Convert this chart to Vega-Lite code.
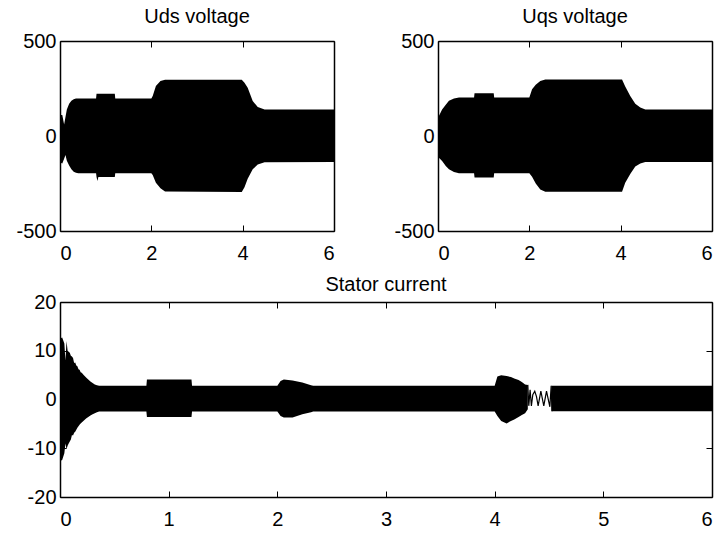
{
  "$schema": "https://vega.github.io/schema/vega-lite/v6.json",
  "background": "white",
  "padding": {"left": 15, "top": 7, "right": 5, "bottom": 5},
  "config": {
    "font": "Liberation Sans",
    "view": {"stroke": null},
    "axis": {"grid": false, "domain": true, "domainColor": "black", "domainWidth": 1.5, "tickColor": "black", "tickSize": -6, "tickWidth": 1, "labelFontSize": 20, "labelColor": "black", "labelFont": "Liberation Sans", "labelExpr": "'' + datum.value"},
    "axisLeft": {"labelPadding": 10},
    "axisBottom": {"labelPadding": 18},
    "title": {"fontSize": 20, "fontWeight": "normal", "font": "Liberation Sans", "color": "black", "baseline": "alphabetic", "offset": 0}
  },
  "datasets": {
    "uds": [
      {"t": 0.0, "hi": 110, "lo": -140},
      {"t": 0.05, "hi": 110, "lo": -145},
      {"t": 0.09, "hi": 60, "lo": -120},
      {"t": 0.12, "hi": 100, "lo": -100},
      {"t": 0.15, "hi": 140, "lo": -130},
      {"t": 0.2, "hi": 170, "lo": -155},
      {"t": 0.25, "hi": 185, "lo": -175},
      {"t": 0.3, "hi": 193, "lo": -188},
      {"t": 0.35, "hi": 197, "lo": -194},
      {"t": 0.4, "hi": 198, "lo": -196},
      {"t": 0.79, "hi": 198, "lo": -196},
      {"t": 0.8, "hi": 222, "lo": -216},
      {"t": 0.82, "hi": 222, "lo": -237},
      {"t": 0.84, "hi": 222, "lo": -216},
      {"t": 1.2, "hi": 222, "lo": -216},
      {"t": 1.21, "hi": 198, "lo": -196},
      {"t": 2.0, "hi": 198, "lo": -196},
      {"t": 2.03, "hi": 210, "lo": -205},
      {"t": 2.1, "hi": 263, "lo": -246},
      {"t": 2.2, "hi": 290, "lo": -275},
      {"t": 2.3, "hi": 296, "lo": -292},
      {"t": 3.98, "hi": 296, "lo": -295},
      {"t": 4.04, "hi": 280, "lo": -270},
      {"t": 4.11, "hi": 254, "lo": -225},
      {"t": 4.22, "hi": 184, "lo": -175},
      {"t": 4.33, "hi": 153, "lo": -150},
      {"t": 4.48, "hi": 140, "lo": -138},
      {"t": 6.0, "hi": 140, "lo": -137}
    ],
    "uqs": [
      {"t": 0.0, "hi": 100, "lo": -100},
      {"t": 0.02, "hi": 105, "lo": -114},
      {"t": 0.09, "hi": 140, "lo": -132},
      {"t": 0.17, "hi": 165, "lo": -158},
      {"t": 0.24, "hi": 185, "lo": -175},
      {"t": 0.35, "hi": 197, "lo": -190},
      {"t": 0.46, "hi": 202, "lo": -196},
      {"t": 0.79, "hi": 202, "lo": -196},
      {"t": 0.8, "hi": 225, "lo": -219},
      {"t": 1.22, "hi": 225, "lo": -219},
      {"t": 1.23, "hi": 202, "lo": -196},
      {"t": 2.0, "hi": 202, "lo": -196},
      {"t": 2.06, "hi": 246, "lo": -215},
      {"t": 2.14, "hi": 270, "lo": -250},
      {"t": 2.24, "hi": 290, "lo": -281},
      {"t": 2.35, "hi": 298, "lo": -293},
      {"t": 4.03, "hi": 298, "lo": -293},
      {"t": 4.1, "hi": 260, "lo": -246},
      {"t": 4.21, "hi": 210, "lo": -200},
      {"t": 4.32, "hi": 170, "lo": -160},
      {"t": 4.43, "hi": 150, "lo": -145},
      {"t": 4.54, "hi": 140, "lo": -137},
      {"t": 6.0, "hi": 140, "lo": -137}
    ],
    "cur": [
      {"seg": "A", "t": 0.0, "hi": 12.5, "lo": -12.6},
      {"seg": "A", "t": 0.02, "hi": 12.7, "lo": -12.4},
      {"seg": "A", "t": 0.04, "hi": 11.5, "lo": -11.0},
      {"seg": "A", "t": 0.05, "hi": 8.0, "lo": -9.0},
      {"seg": "A", "t": 0.06, "hi": 12.0, "lo": -10.2},
      {"seg": "A", "t": 0.07, "hi": 10.0, "lo": -9.5},
      {"seg": "A", "t": 0.08, "hi": 9.8, "lo": -9.0},
      {"seg": "A", "t": 0.09, "hi": 9.6, "lo": -8.6},
      {"seg": "A", "t": 0.1, "hi": 9.0, "lo": -8.2},
      {"seg": "A", "t": 0.11, "hi": 8.8, "lo": -7.3},
      {"seg": "A", "t": 0.12, "hi": 8.5, "lo": -7.4},
      {"seg": "A", "t": 0.13, "hi": 7.5, "lo": -6.8},
      {"seg": "A", "t": 0.14, "hi": 7.6, "lo": -6.6},
      {"seg": "A", "t": 0.15, "hi": 7.0, "lo": -6.2},
      {"seg": "A", "t": 0.16, "hi": 6.8, "lo": -5.8},
      {"seg": "A", "t": 0.17, "hi": 6.2, "lo": -5.5},
      {"seg": "A", "t": 0.18, "hi": 6.1, "lo": -5.2},
      {"seg": "A", "t": 0.19, "hi": 5.6, "lo": -4.9},
      {"seg": "A", "t": 0.2, "hi": 5.5, "lo": -4.7},
      {"seg": "A", "t": 0.22, "hi": 5.0, "lo": -4.3},
      {"seg": "A", "t": 0.24, "hi": 4.5, "lo": -3.9},
      {"seg": "A", "t": 0.26, "hi": 4.1, "lo": -3.6},
      {"seg": "A", "t": 0.28, "hi": 3.7, "lo": -3.3},
      {"seg": "A", "t": 0.3, "hi": 3.4, "lo": -3.0},
      {"seg": "A", "t": 0.32, "hi": 3.1, "lo": -2.8},
      {"seg": "A", "t": 0.34, "hi": 2.9, "lo": -2.6},
      {"seg": "A", "t": 0.36, "hi": 2.8, "lo": -2.45},
      {"seg": "A", "t": 0.795, "hi": 2.8, "lo": -2.45},
      {"seg": "A", "t": 0.8, "hi": 4.1, "lo": -3.6},
      {"seg": "A", "t": 1.21, "hi": 4.1, "lo": -3.6},
      {"seg": "A", "t": 1.215, "hi": 2.8, "lo": -2.45},
      {"seg": "A", "t": 2.0, "hi": 2.8, "lo": -2.45},
      {"seg": "A", "t": 2.03, "hi": 3.8, "lo": -3.4},
      {"seg": "A", "t": 2.06, "hi": 4.1, "lo": -3.7},
      {"seg": "A", "t": 2.14, "hi": 3.9, "lo": -3.7},
      {"seg": "A", "t": 2.23, "hi": 3.5, "lo": -3.0},
      {"seg": "A", "t": 2.31, "hi": 2.9, "lo": -2.6},
      {"seg": "A", "t": 2.33, "hi": 2.8, "lo": -2.45},
      {"seg": "A", "t": 4.0, "hi": 2.8, "lo": -2.45},
      {"seg": "A", "t": 4.025, "hi": 4.7, "lo": -3.4},
      {"seg": "A", "t": 4.06, "hi": 5.0, "lo": -4.4},
      {"seg": "A", "t": 4.11, "hi": 4.8, "lo": -4.9},
      {"seg": "A", "t": 4.15, "hi": 4.6, "lo": -4.4},
      {"seg": "A", "t": 4.18, "hi": 4.3, "lo": -4.1},
      {"seg": "A", "t": 4.22, "hi": 4.0, "lo": -3.6},
      {"seg": "A", "t": 4.25, "hi": 3.6, "lo": -3.2},
      {"seg": "A", "t": 4.28, "hi": 3.1, "lo": -2.8},
      {"seg": "A", "t": 4.305, "hi": 3.0, "lo": -2.0},
      {"seg": "B", "t": 4.523, "hi": 2.8, "lo": -2.4},
      {"seg": "B", "t": 6.0, "hi": 2.8, "lo": -2.4}
    ],
    "wig": [
      {"t": 4.305, "v": 3.0},
      {"t": 4.314, "v": -1.3},
      {"t": 4.326, "v": 2.0},
      {"t": 4.338, "v": -1.3},
      {"t": 4.351, "v": 1.0},
      {"t": 4.369, "v": 1.7},
      {"t": 4.385, "v": 0.6},
      {"t": 4.4, "v": -1.3},
      {"t": 4.425, "v": 1.7},
      {"t": 4.452, "v": -1.3},
      {"t": 4.477, "v": 1.7},
      {"t": 4.508, "v": -1.5},
      {"t": 4.52, "v": 2.8},
      {"t": 4.528, "v": -2.4}
    ]
  },
  "spacing": 12,
  "vconcat": [
    {
      "spacing": 104,
      "bounds": "flush",
      "hconcat": [
        {
          "width": 274, "height": 190,
          "title": "Uds voltage",
          "data": {"name": "uds"},
          "layer": [
            {
              "mark": {"type": "area", "color": "black", "interpolate": "linear"},
              "encoding": {
                "x": {"field": "t", "type": "quantitative", "title": null, "scale": {"domain": [0, 6], "nice": false}, "axis": {"values": [0, 2, 4, 6], "orient": "bottom"}},
                "y": {"field": "hi", "type": "quantitative", "title": null, "scale": {"domain": [-500, 500], "nice": false}, "axis": {"values": [-500, 0, 500], "orient": "left"}},
                "y2": {"field": "lo"}
              }
            },
            {
              "mark": {"type": "point", "opacity": 0},
              "encoding": {
                "x": {"field": "t", "type": "quantitative", "title": null, "scale": {"domain": [0, 6], "nice": false}, "axis": {"values": [0, 2, 4, 6], "orient": "top", "labels": false}},
                "y": {"field": "hi", "type": "quantitative", "title": null, "scale": {"domain": [-500, 500], "nice": false}, "axis": {"values": [-500, 0, 500], "orient": "right", "labels": false}}
              }
            }
          ],
          "resolve": {"scale": {"x": "independent", "y": "independent"}, "axis": {"x": "independent", "y": "independent"}}
        },
        {
          "width": 274, "height": 190,
          "title": "Uqs voltage",
          "data": {"name": "uqs"},
          "layer": [
            {
              "mark": {"type": "area", "color": "black", "interpolate": "linear"},
              "encoding": {
                "x": {"field": "t", "type": "quantitative", "title": null, "scale": {"domain": [0, 6], "nice": false}, "axis": {"values": [0, 2, 4, 6], "orient": "bottom"}},
                "y": {"field": "hi", "type": "quantitative", "title": null, "scale": {"domain": [-500, 500], "nice": false}, "axis": {"values": [-500, 0, 500], "orient": "left"}},
                "y2": {"field": "lo"}
              }
            },
            {
              "mark": {"type": "point", "opacity": 0},
              "encoding": {
                "x": {"field": "t", "type": "quantitative", "title": null, "scale": {"domain": [0, 6], "nice": false}, "axis": {"values": [0, 2, 4, 6], "orient": "top", "labels": false}},
                "y": {"field": "hi", "type": "quantitative", "title": null, "scale": {"domain": [-500, 500], "nice": false}, "axis": {"values": [-500, 0, 500], "orient": "right", "labels": false}}
              }
            }
          ],
          "resolve": {"scale": {"x": "independent", "y": "independent"}, "axis": {"x": "independent", "y": "independent"}}
        }
      ]
    },
    {
      "width": 652, "height": 195,
      "title": {"text": "Stator current", "offset": -3},
      "layer": [
        {
          "data": {"name": "cur"},
          "mark": {"type": "area", "color": "black", "interpolate": "linear"},
          "encoding": {
            "x": {"field": "t", "type": "quantitative", "title": null, "scale": {"domain": [0, 6], "nice": false}, "axis": {"values": [0, 1, 2, 3, 4, 5, 6], "orient": "bottom"}},
            "y": {"field": "hi", "type": "quantitative", "title": null, "scale": {"domain": [-20, 20], "nice": false}, "axis": {"values": [-20, -10, 0, 10, 20], "orient": "left"}},
            "y2": {"field": "lo"},
            "detail": {"field": "seg", "type": "nominal"}
          }
        },
        {
          "data": {"name": "wig"},
          "mark": {"type": "line", "color": "black", "strokeWidth": 1.2},
          "encoding": {
            "x": {"field": "t", "type": "quantitative", "title": null, "scale": {"domain": [0, 6], "nice": false}, "axis": {"values": [0, 1, 2, 3, 4, 5, 6], "orient": "top", "labels": false}},
            "y": {"field": "v", "type": "quantitative", "title": null, "scale": {"domain": [-20, 20], "nice": false}, "axis": {"values": [-20, -10, 0, 10, 20], "orient": "right", "labels": false}}
          }
        }
      ],
      "resolve": {"scale": {"x": "independent", "y": "independent"}, "axis": {"x": "independent", "y": "independent"}}
    }
  ]
}
